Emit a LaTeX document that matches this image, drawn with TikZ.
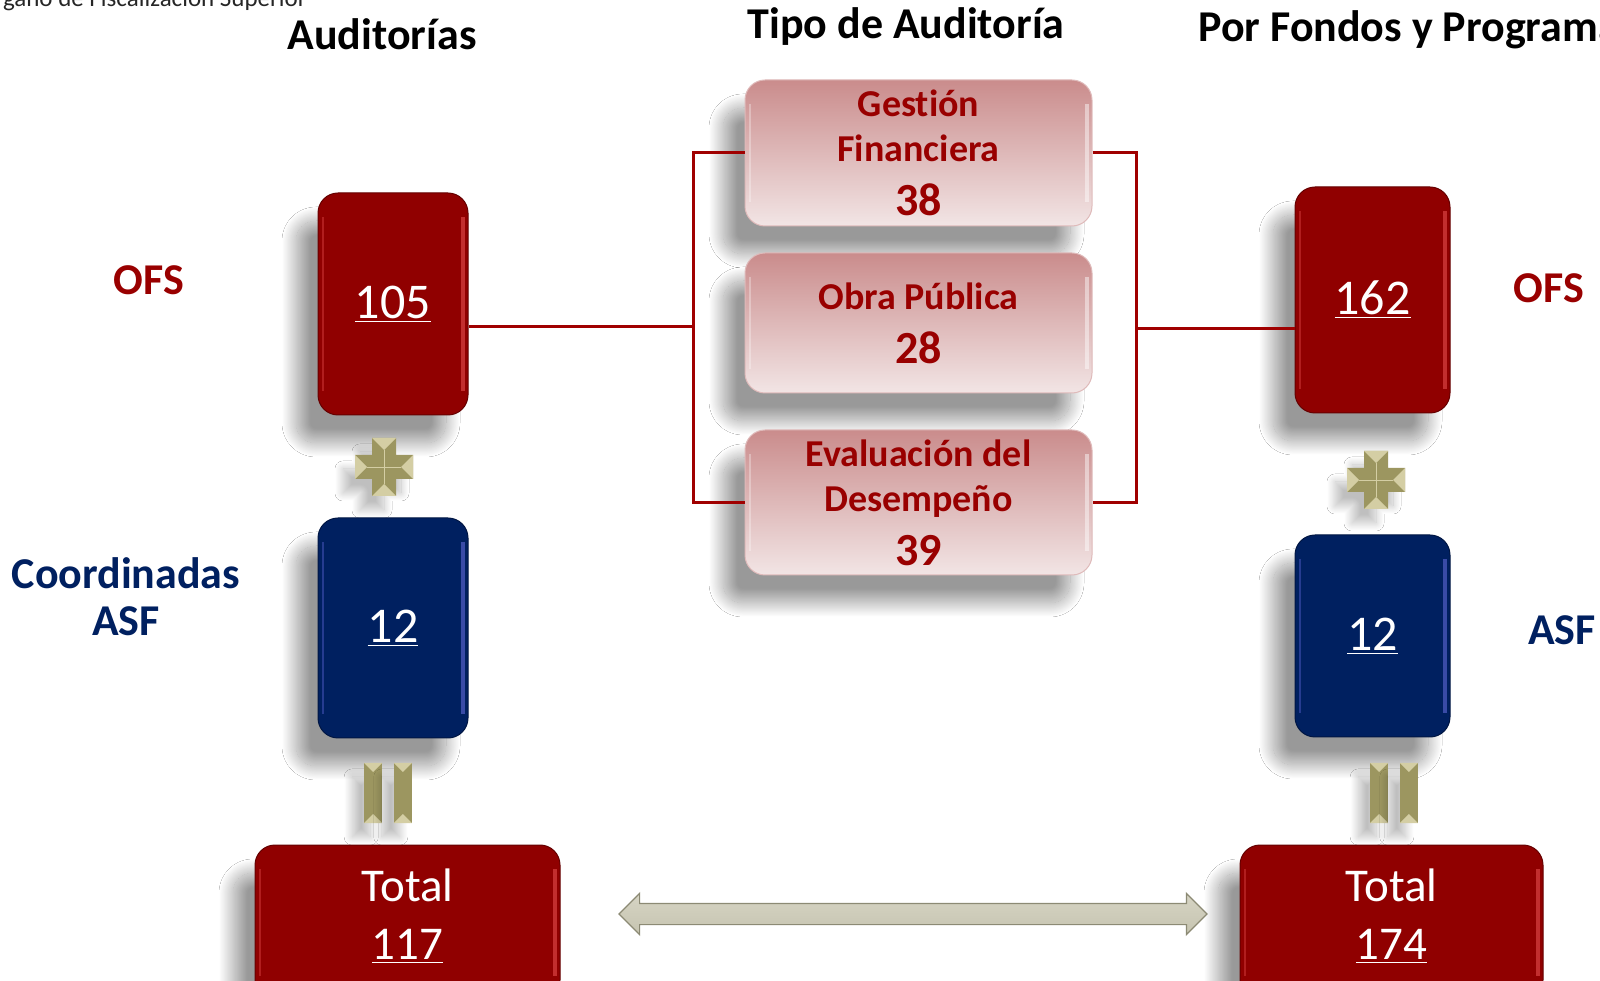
\documentclass[tikz,border=0pt]{standalone}
\usepackage{fontspec}
\setmainfont{Carlito}[Ligatures=NoCommon]
\usetikzlibrary{shapes.arrows,shadows.blur}
\definecolor{ofsred}{HTML}{900000}
\definecolor{asfblue}{HTML}{002060}
\definecolor{labred}{HTML}{990000}
\definecolor{linkred}{HTML}{A00000}
\definecolor{pinktop}{HTML}{CA8C8C}
\definecolor{pinkbot}{HTML}{F2E5E5}
\definecolor{gold}{HTML}{9C9660}
\definecolor{goldlt}{HTML}{D4CEA4}
\definecolor{arrowedge}{HTML}{8C8A74}
\definecolor{arrowtop}{HTML}{D6D4C4}
\definecolor{arrowmid}{HTML}{F8F7F0}
\definecolor{arrowbot}{HTML}{C6C4B0}
\tikzset{
  >=latex,
  softshadow/.style={blur shadow={shadow xshift=-11pt,shadow yshift=-14pt,
      shadow blur radius=7pt,shadow blur steps=40,shadow opacity=40}},
  smallshadow/.style={blur shadow={shadow xshift=-6pt,shadow yshift=-7pt,
      shadow blur radius=4pt,shadow blur steps=25,shadow opacity=25}},
  gloss/.style={path picture={
      \draw[#1,line width=1.6pt,opacity=.45]
        ([xshift=-2.5pt,yshift=-12pt]path picture bounding box.north east) --
        ([xshift=-2.5pt,yshift=12pt]path picture bounding box.south east);
      \draw[#1,line width=1pt,opacity=.3]
        ([xshift=2.5pt,yshift=-12pt]path picture bounding box.north west) --
        ([xshift=2.5pt,yshift=12pt]path picture bounding box.south west);}},
  numbox/.style={draw=#1!70!black,line width=.5pt,fill=#1,rounded corners=10pt,
      softshadow,text=white,minimum width=75pt,inner sep=0pt,
      font=\fontsize{25}{29}\selectfont},
  tipbox/.style={draw=pinktop!60!white,line width=.5pt,rounded corners=10pt,
      top color=pinktop,bottom color=pinkbot,softshadow,gloss=white,
      text=labred,align=center,minimum width=173.5pt,inner sep=0pt,
      font=\bfseries\fontsize{19}{22.5}\selectfont},
  totaltext/.style={text=white,align=center,inner sep=0pt,
      font=\fontsize{23.5}{29}\selectfont},
  title/.style={inner sep=0pt,font=\bfseries\fontsize{22}{26}\selectfont},
  lab/.style={inner sep=0pt,align=center,font=\bfseries\fontsize{22}{23.5}\selectfont},
  link/.style={linkred,line width=1.5pt},
  plusmark/.pic={
    \fill[gold,smallshadow] (-6pt,14.5pt) -- (6pt,14.5pt) -- (6pt,6pt) -- (14.5pt,6pt)
      -- (14.5pt,-6pt) -- (6pt,-6pt) -- (6pt,-14.5pt) -- (-6pt,-14.5pt) -- (-6pt,-6pt)
      -- (-14.5pt,-6pt) -- (-14.5pt,6pt) -- (-6pt,6pt) -- cycle;
    \fill[goldlt] (-6pt,14.5pt) -- (6pt,14.5pt) -- (0,8.5pt) -- cycle;
    \fill[goldlt] (14.5pt,6pt) -- (14.5pt,-6pt) -- (8.5pt,0) -- cycle;
    \fill[goldlt] (-6pt,-14.5pt) -- (6pt,-14.5pt) -- (0,-8.5pt) -- cycle;
    \fill[goldlt] (-14.5pt,6pt) -- (-14.5pt,-6pt) -- (-8.5pt,0) -- cycle;
    \draw[goldlt,line width=.4pt] (0,8.5pt) -- (0,-8.5pt) (8.5pt,0) -- (-8.5pt,0);
  },
  eqmark/.pic={
    \foreach \x in {-7.4pt,7.4pt}{
      \fill[gold,smallshadow] ({\x-4.5pt},-15pt) rectangle ({\x+4.5pt},15pt);
      \fill[goldlt] ({\x-4.5pt},15pt) -- ({\x+4.5pt},15pt) -- (\x,10.5pt) -- cycle;
      \fill[goldlt] ({\x-4.5pt},-15pt) -- ({\x+4.5pt},-15pt) -- (\x,-10.5pt) -- cycle;
    }
  },
}
\begin{document}
\begin{tikzpicture}[x=0.5pt,y=0.5pt]
  \clip (0,0) rectangle (1600,980);
  \fill[white] (0,0) rectangle (1600,980);
  % titles
  \node[anchor=base east,inner sep=0pt,text=black!85,font=\fontsize{12.5}{14}\selectfont]
    (org) at (307,973) {Órgano de Fiscalización Superior};
  \node[title,anchor=base] (tAud) at (382,930) {Auditorías};
  \node[title,anchor=base] (tTipo) at (906,941) {Tipo de Auditoría};
  \node[title,anchor=base west] (tFon) at (1198,938) {Por Fondos y Programas};
  % left column
  \node[numbox=ofsred,minimum height=111pt,gloss=red!60!white] (ofsL) at (393,676) {\underline{105}};
  \node[numbox=asfblue,minimum height=110pt,gloss=blue!50!white] (asfL) at (393,352) {\underline{12}};
  \node[numbox=ofsred,minimum width=152.5pt,minimum height=77.5pt,gloss=red!60!white] (totL) at (407.5,57.5) {};
  \node[totaltext] (totLtxt) at (407.5,64) {Total\\\underline{117}};
  \node[lab,text=labred] (labOfsL) at (149,700) {OFS};
  \node[lab,text=asfblue] (labAsfL) at (126,383) {Coordinadas\\ASF};
  \pic (plusL) at (384,513) {plusmark};
  \pic (eqL) at (388,187) {eqmark};
  % audit types
  \node[tipbox,minimum height=73pt] (gf) at (918.5,827)
    {Gestión\\Financiera\\[4.5pt]{\fontsize{23}{25}\selectfont 38}};
  \node[tipbox,minimum height=70pt] (op) at (918.5,657)
    {Obra Pública\\[4.5pt]{\fontsize{23}{25}\selectfont 28}};
  \node[tipbox,minimum height=72.5pt] (ed) at (918.5,477.5)
    {Evaluación del\\Desempeño\\[4.5pt]{\fontsize{23}{25}\selectfont 39}};
  \coordinate (jl) at (693,653);
  \coordinate (jr) at (1136,651);
  \draw[link] (gf.west) -| (jl) |- (ed.west);
  \draw[link] (ofsL.east |- jl) -- (jl);
  \draw[link] (gf.east) -| (jr) |- (ed.east);
  % right column
  \node[numbox=ofsred,minimum width=77.5pt,minimum height=113pt,gloss=red!60!white] (ofsR) at (1372.5,680) {\underline{162}};
  \node[numbox=asfblue,minimum width=77.5pt,minimum height=101pt,gloss=blue!50!white] (asfR) at (1372.5,344) {\underline{12}};
  \node[numbox=ofsred,minimum width=151.5pt,minimum height=77.5pt,gloss=red!60!white] (totR) at (1391.5,57.5) {};
  \node[totaltext] (totRtxt) at (1391.5,64) {Total\\\underline{174}};
  \draw[link] (jr) -- (ofsR.west |- jr);
  \node[lab,text=labred] (labOfsR) at (1549,692) {OFS};
  \node[lab,text=asfblue] (labAsfR) at (1562,350) {ASF};
  \pic (plusR) at (1376,500) {plusmark};
  \pic (eqR) at (1394,187) {eqmark};
  % totals compared
  \node[double arrow,minimum height=294pt,inner xsep=0pt,inner ysep=5pt,
    double arrow head extend=5pt,draw=arrowedge,line width=.6pt,
    top color=arrowtop,middle color=arrowmid,bottom color=arrowbot] (span) at (913,66) {};
\end{tikzpicture}
\end{document}
